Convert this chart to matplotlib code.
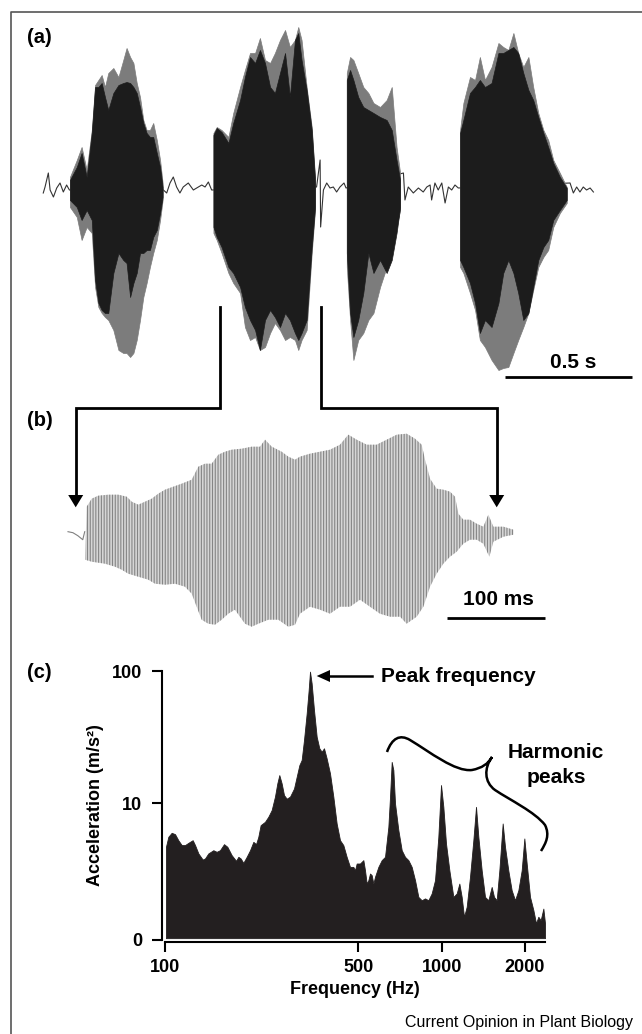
"""Insect vibrational signal: waveform, zoomed pulse and spectrum."""

import matplotlib

matplotlib.use("Agg")
import matplotlib.pyplot as plt
import numpy as np
from matplotlib.patches import PathPatch, Polygon
from matplotlib.path import Path
from matplotlib.ticker import NullLocator

plt.rcParams["font.family"] = ["Liberation Sans", "DejaVu Sans"]
plt.rcParams["font.weight"] = "bold"
plt.rcParams["axes.labelweight"] = "bold"
plt.rcParams["hatch.linewidth"] = 0.8

W, H = 642, 1034

# ---------------- panel (a): four pulses (time in s, amplitude arb. units)
# gt/gb = grey trace envelope, bt/bb = black trace envelope
p1_t = [0.106, 0.133, 0.152, 0.172, 0.192, 0.205, 0.218, 0.231, 0.244, 0.257, 0.277, 0.297, 0.316,
        0.329, 0.343, 0.356, 0.369, 0.382, 0.395, 0.408, 0.421, 0.434, 0.448, 0.461, 0.471]
p1_gt = [0.13, 0.30, 0.43, 0.20, 0.60, 1.05, 1.10, 1.15, 1.03, 1.17, 1.22, 1.13, 1.30,
         1.42, 1.33, 1.27, 1.07, 0.93, 0.70, 0.60, 0.60, 0.67, 0.50, 0.30, 0.07]
p1_bt = [0.10, 0.23, 0.37, 0.13, 0.57, 1.03, 1.03, 1.07, 0.93, 0.80, 0.97, 1.05, 1.07,
         1.08, 1.07, 1.03, 0.97, 0.83, 0.67, 0.57, 0.53, 0.53, 0.37, 0.23, 0.03]
p1_bb = [-0.10, -0.17, -0.30, -0.20, -0.30, -0.90, -1.13, -1.20, -1.23, -1.23, -0.83, -0.63, -0.70,
         -0.73, -1.07, -0.93, -0.83, -0.63, -0.63, -0.60, -0.60, -0.47, -0.40, -0.23, -0.07]
p1_gb = [-0.17, -0.27, -0.50, -0.37, -0.43, -0.97, -1.17, -1.23, -1.27, -1.30, -1.40, -1.60, -1.63,
         -1.63, -1.67, -1.63, -1.50, -1.30, -1.07, -0.93, -0.77, -0.63, -0.50, -0.30, -0.10]

p2_t = [0.671, 0.684, 0.703, 0.730, 0.749, 0.776, 0.795, 0.815, 0.835, 0.854, 0.874, 0.894, 0.913,
        0.933, 0.953, 0.972, 0.992, 1.005, 1.018, 1.038, 1.058, 1.071]
p2_gt = [0.57, 0.63, 0.60, 0.53, 0.77, 1.03, 1.20, 1.37, 1.37, 1.52, 1.30, 1.27, 1.37,
         1.50, 1.60, 1.43, 1.50, 1.63, 1.50, 1.03, 0.63, 0.13]
p2_bt = [0.55, 0.62, 0.58, 0.47, 0.67, 0.90, 1.13, 1.33, 1.27, 1.40, 1.27, 1.03, 0.97,
         1.17, 1.37, 0.93, 1.50, 1.57, 1.30, 1.00, 0.60, 0.10]
p2_bb = [-0.37, -0.47, -0.57, -0.77, -0.83, -0.97, -1.17, -1.30, -1.40, -1.60, -1.30, -1.20, -1.27,
         -1.37, -1.23, -1.30, -1.43, -1.50, -1.43, -1.30, -0.57, -0.17]
p2_gb = [-0.43, -0.50, -0.63, -0.83, -0.93, -1.03, -1.37, -1.50, -1.47, -1.60, -1.57, -1.43, -1.33,
         -1.40, -1.50, -1.47, -1.50, -1.60, -1.50, -1.40, -0.63, -0.20]

p3_t = [1.196, 1.209, 1.222, 1.241, 1.261, 1.281, 1.301, 1.327, 1.353, 1.373, 1.392, 1.406]
p3_gt = [1.17, 1.33, 1.30, 1.17, 1.03, 0.97, 0.87, 0.83, 0.90, 1.03, 0.43, 0.17]
p3_bt = [1.10, 1.20, 1.10, 0.93, 0.83, 0.80, 0.77, 0.73, 0.70, 0.60, 0.30, 0.10]
p3_bb = [-0.63, -1.23, -1.47, -1.30, -1.03, -0.63, -0.83, -0.70, -0.83, -0.70, -0.43, -0.17]
p3_gb = [-0.77, -1.30, -1.70, -1.50, -1.43, -1.30, -1.23, -0.97, -0.77, -0.63, -0.37, -0.20]

p4_t = [1.642, 1.655, 1.681, 1.701, 1.720, 1.740, 1.766, 1.793, 1.812, 1.832, 1.852, 1.871, 1.891,
        1.911, 1.930, 1.950, 1.970, 1.989, 2.009, 2.035, 2.062]
p4_gt = [0.60, 0.87, 1.13, 1.10, 1.33, 1.10, 1.23, 1.47, 1.43, 1.40, 1.57, 1.37, 1.23,
         1.33, 1.03, 0.77, 0.60, 0.50, 0.30, 0.17, 0.03]
p4_bt = [0.57, 0.70, 0.97, 1.03, 1.10, 1.03, 1.07, 1.37, 1.37, 1.40, 1.43, 1.37, 1.17,
         1.00, 0.90, 0.73, 0.57, 0.43, 0.27, 0.13, 0.02]
p4_bb = [-0.70, -0.77, -0.93, -1.13, -1.43, -1.30, -1.37, -1.13, -0.83, -0.70, -0.83, -1.03, -1.30,
         -1.23, -0.97, -0.70, -0.57, -0.50, -0.30, -0.20, -0.10]
p4_gb = [-0.77, -0.83, -1.03, -1.20, -1.50, -1.57, -1.70, -1.80, -1.78, -1.77, -1.63, -1.50, -1.37,
         -1.23, -1.00, -0.77, -0.67, -0.60, -0.37, -0.23, -0.13]

noise_t = [0.001, 0.008, 0.021, 0.028, 0.041, 0.054, 0.067, 0.080, 0.093, 0.104,
           0.474, 0.487, 0.500, 0.513, 0.526, 0.539, 0.552, 0.572, 0.592, 0.605, 0.625, 0.638, 0.651, 0.664,
           1.077, 1.091, 1.093, 1.104, 1.117, 1.130, 1.143, 1.156, 1.169, 1.185, 1.193,
           1.419, 1.425, 1.438, 1.458, 1.478, 1.497, 1.511, 1.524, 1.530, 1.543, 1.556, 1.570, 1.583,
           1.596, 1.609, 1.622, 1.635,
           2.075, 2.088, 2.101, 2.114, 2.127, 2.140, 2.154, 2.167]
noise_a = [-0.03, 0.03, 0.17, 0.00, -0.07, 0.02, 0.07, -0.02, 0.05, 0.00,
           0.00, -0.03, 0.07, 0.13, 0.03, -0.03, 0.03, 0.07, 0.00, 0.02, 0.05, 0.03, 0.08, 0.00,
           0.03, 0.30, -0.37, 0.00, 0.07, 0.02, 0.03, -0.02, 0.03, 0.07, 0.02,
           0.17, -0.10, 0.03, -0.03, 0.02, -0.02, 0.03, 0.05, -0.10, 0.07, 0.00, 0.07, -0.13,
           0.03, 0.00, 0.05, 0.02,
           0.07, -0.03, 0.03, -0.02, 0.03, 0.00, 0.02, -0.02]

pulses = [
    (p1_t, p1_gt, p1_bt, p1_bb, p1_gb),
    (p2_t, p2_gt, p2_bt, p2_bb, p2_gb),
    (p3_t, p3_gt, p3_bt, p3_bb, p3_gb),
    (p4_t, p4_gt, p4_bt, p4_bb, p4_gb),
]

# ---------------- panel (b): one pulse expanded (time in ms)
lead_t = [0, 5, 10, 15, 17]
lead_a = [0.00, -0.01, -0.04, -0.08, 0.00]
top_t = [19.0, 24.1, 30.8, 41.0, 51.2, 59.7, 64.8, 71.5, 78.3, 85.1, 91.8, 98.6, 107.1, 115.6,
         125.8, 132.5, 139.3, 146.1, 152.9, 159.7, 166.5, 176.7, 186.8, 195.3, 200.4, 207.2,
         217.3, 224.1, 230.9, 235.9, 246.1, 256.3, 266.5, 276.6, 285.1, 293.6, 303.8, 313.9,
         324.1, 334.3, 344.4, 352.9, 359.7, 363.1, 368.2, 374.9, 381.7, 388.5, 393.6, 397.0,
         402.0, 408.8, 415.6, 422.4, 427.5, 432.6, 442.8, 452.9]
top_a = [0.25, 0.33, 0.36, 0.37, 0.37, 0.35, 0.30, 0.27, 0.30, 0.33, 0.38, 0.42, 0.45, 0.48,
         0.52, 0.65, 0.68, 0.68, 0.77, 0.80, 0.82, 0.83, 0.85, 0.85, 0.92, 0.85,
         0.80, 0.75, 0.72, 0.75, 0.78, 0.80, 0.82, 0.87, 0.97, 0.92, 0.87, 0.87,
         0.92, 0.97, 0.98, 0.93, 0.87, 0.72, 0.53, 0.43, 0.42, 0.40, 0.35, 0.18,
         0.12, 0.12, 0.08, 0.05, 0.17, 0.05, 0.05, 0.02]
bot_t = [17.3, 24.1, 37.6, 47.8, 54.6, 61.3, 71.5, 81.7, 88.5, 98.6, 108.8, 119.0, 125.8,
         135.9, 142.7, 149.5, 156.3, 163.0, 169.8, 180.0, 186.8, 193.6, 203.8, 213.9, 224.1,
         230.9, 235.9, 246.1, 256.3, 266.5, 276.6, 286.8, 297.0, 307.1, 317.3, 327.5, 337.7,
         344.4, 354.6, 361.4, 368.2, 374.9, 381.7, 388.5, 395.3, 402.0, 408.8, 415.6, 422.4,
         428.5, 432.6, 442.8, 452.9]
bot_a = [-0.28, -0.30, -0.32, -0.35, -0.38, -0.42, -0.45, -0.48, -0.52, -0.53, -0.52, -0.55, -0.62,
         -0.88, -0.92, -0.93, -0.88, -0.82, -0.78, -0.92, -0.95, -0.92, -0.88, -0.88, -0.95,
         -0.93, -0.82, -0.75, -0.78, -0.82, -0.75, -0.75, -0.68, -0.75, -0.82, -0.85, -0.85,
         -0.92, -0.85, -0.75, -0.55, -0.42, -0.32, -0.25, -0.20, -0.12, -0.08, -0.08, -0.12,
         -0.25, -0.10, -0.05, -0.03]

# ---------------- panel (c): spectrum
freq_hz = [100.8, 102.8, 105.7, 108.7, 111.7, 114.9, 118.1, 121.4, 125.9, 128.4, 132.0, 136.8,
           139.5, 143.4, 149.5, 153.7, 158.0, 163.4, 168.0, 174.1, 180.6, 184.1, 187.7, 191.9,
           197.3, 202.9, 208.6, 213.3, 217.4, 221.6, 229.8, 236.2, 242.9, 249.7, 254.6, 258.9,
           264.0, 269.2, 275.3, 283.0, 292.6, 299.1, 305.9, 311.8, 317.9, 325.1, 330.5, 334.2,
           338.8, 345.5, 353.3, 361.2, 368.3, 375.5, 383.9, 394.7, 405.8, 417.2, 429.0, 441.0,
           453.4, 466.2,
           479.3, 486.0, 492.8, 506.6, 521.0, 528.2, 535.6, 543.2, 550.7, 558.4, 566.2, 574.1,
           590.2, 606.9, 623.9, 641.5, 650.5, 659.6, 668.7, 678.1, 697.2, 716.9, 736.9, 757.7,
           779.0, 800.9, 823.4, 846.5, 870.3, 894.6, 919.8, 945.8, 972.3, 994.3, 1013.7, 1036.3,
           1065.8, 1101.9, 1132.7, 1158.2, 1180.8, 1203.9, 1231.0, 1265.5, 1301.2, 1330.4,
           1356.4, 1394.6, 1433.8, 1474.2, 1515.6, 1545.2, 1580.0, 1615.5, 1660.9, 1693.3,
           1740.4, 1790.0, 1840.7, 1892.3, 1945.5, 1989.0, 2028.3, 2085.2, 2144.0, 2192.0,
           2234.8, 2278.6, 2329.9, 2362.4]
accel = [4.67, 5.56, 5.96, 5.82, 5.24, 4.81, 4.81, 5.00, 5.24, 4.81, 4.16, 3.74,
         3.81, 4.16, 4.40, 4.28, 4.40, 4.89, 4.67, 4.04, 3.66, 3.92, 3.81, 3.53,
         3.92, 4.40, 5.09, 4.89, 5.56, 6.81, 7.22, 7.88, 8.85, 11.2, 14.1, 16.3,
         14.1, 11.5, 10.8, 11.2, 12.9, 15.8, 19.4, 21.2, 30.0, 47.8, 71.8, 98.9,
         80.7, 50.7, 31.8, 26.0, 24.5, 26.0, 21.8, 16.8, 11.2, 7.01, 5.24, 4.81,
         3.92, 3.29,
         3.29, 3.10, 3.49, 3.49, 3.70, 3.10, 2.46, 2.61, 2.93, 2.85, 2.46, 2.77,
         3.29, 3.70, 3.92, 6.62, 11.2, 20.5, 17.8, 9.94, 6.24, 4.40, 3.92, 3.70,
         3.29, 2.61, 1.95, 1.84, 1.90, 1.84, 2.07, 2.61, 5.56, 13.7, 9.37, 4.95,
         3.10, 1.95, 2.07, 2.46, 1.95, 1.38, 1.64, 2.77, 5.24, 9.37,
         5.56, 3.10, 1.95, 1.84, 2.32, 1.95, 1.84, 3.10, 7.01, 4.67,
         3.10, 2.19, 1.84, 2.19, 3.10, 5.40, 3.49, 1.95, 1.55, 1.23,
         1.38, 1.30, 1.59, 1.23]
freq_ticks = [100, 500, 1000, 2000]
freq_ticklabels = ["100", "500", "1000", "2000"]
accel_ticks = [0.92, 10, 100]
accel_ticklabels = ["0", "10", "100"]

BLACK = "#1c1c1c"
GREY = "#7c7c7c"


def px_box(x0, y0, x1, y1):
    """Figure-fraction rect from pixel box (top-left origin)."""
    return [x0 / W, 1 - y1 / H, (x1 - x0) / W, (y1 - y0) / H]


fig = plt.figure(figsize=(W / 100, H / 100), dpi=100)

# ---- (a)
ax_a = fig.add_axes(px_box(0, 20, W, 400))
ax_a.set_xlim(-43 / 254, (W - 43) / 254)
ax_a.set_ylim(-2.10, 1.70)
ax_a.axis("off")
ax_a.plot(noise_t, noise_a, color="#333333", lw=0.8, zorder=1)
for t, gt, bt, bb, gb in pulses:
    ax_a.fill_between(t, gb, gt, color=GREY, lw=0.5, zorder=2)
    ax_a.fill_between(t, bb, bt, color=BLACK, lw=0.5, zorder=3)
ax_a.plot([1.819, 2.319], [-1.87, -1.87], color="black", lw=2, solid_capstyle="butt")
ax_a.text(2.088, -1.78, "0.5 s", ha="center", va="baseline", fontsize=15)

# ---- (b)
ax_b = fig.add_axes(px_box(0, 420, W, 640))
ax_b.set_xlim(-68 * 1.017, (W - 68) * 1.017)
ax_b.set_ylim(-1.083, 1.117)
ax_b.axis("off")
ax_b.plot(lead_t, lead_a, color="#808080", lw=0.8)
ax_b.fill(top_t + bot_t[::-1], top_a + bot_a[::-1], facecolor="#d6d6d6",
          edgecolor="#858585", hatch="||||||", lw=0)
ax_b.plot([385.1, 485.1], [-0.86, -0.86], color="black", lw=2, solid_capstyle="butt")
ax_b.text(437.3, -0.733, "100 ms", ha="center", va="baseline", fontsize=15)

# ---- (c)
ax_c = fig.add_axes(px_box(165, 671, 545, 940))
ax_c.fill_between(freq_hz, 0.95, accel, color="#231f20", lw=0.6)
ax_c.set_xscale("log")
ax_c.set_yscale("log")
ax_c.set_xlim(100, 2362)
ax_c.set_ylim(0.92, 100)
ax_c.xaxis.set_minor_locator(NullLocator())
ax_c.yaxis.set_minor_locator(NullLocator())
ax_c.set_xticks(freq_ticks)
ax_c.set_xticklabels(freq_ticklabels)
ax_c.set_yticks(accel_ticks)
ax_c.set_yticklabels(accel_ticklabels)
ax_c.patch.set_alpha(0)
for side in ("top", "right"):
    ax_c.spines[side].set_visible(False)
ax_c.spines["left"].set_position(("outward", 2.4))
ax_c.spines["bottom"].set_position(("outward", 1.4))
for side in ("left", "bottom"):
    ax_c.spines[side].set_linewidth(1.5)
ax_c.tick_params(direction="out", length=7, width=1.5, labelsize=13)
ax_c.tick_params(axis="y", pad=7)
ax_c.tick_params(axis="x", pad=5)
ax_c.set_xlabel("Frequency (Hz)", fontsize=13, fontweight="bold", labelpad=4)
ax_c.set_ylabel("Acceleration (m/s²)", fontsize=13, fontweight="bold", labelpad=6)

# ---- overlay: frame, labels, connectors, annotations (pixel coords)
ov = fig.add_axes([0, 0, 1, 1], zorder=10)
ov.set_xlim(0, W)
ov.set_ylim(H, 0)
ov.axis("off")
ov.patch.set_alpha(0)

ov.plot([10.7, 10.7, W + 5], [H + 5, 11.7, 11.7], color="#555555", lw=1.2)
for lab, y in (("(a)", 43), ("(b)", 426), ("(c)", 678)):
    ov.text(27, y, lab, ha="left", va="baseline", fontsize=14.5)

# connectors from pulse 2 of (a) down to (b)
for x_top, x_bot in ((220, 75.7), (320.7, 496.7)):
    ov.plot([x_top, x_top, x_bot, x_bot], [307, 408, 408, 496], color="black", lw=2,
            solid_joinstyle="miter")
    ov.add_patch(Polygon([(x_bot - 7.5, 495), (x_bot + 7.5, 495), (x_bot, 507.3)],
                         closed=True, color="black", lw=0))

# peak frequency arrow
ov.plot([372, 328], [676, 676], color="black", lw=1.8)
ov.add_patch(Polygon([(330, 670), (330, 682), (316.7, 676)], closed=True, color="black", lw=0))
ov.text(381, 682, "Peak frequency", ha="left", va="baseline", fontsize=15)

# harmonic brace
brace = Path(
    [(387, 752), (392, 738), (400, 734), (410, 740),
     (430, 752), (455, 772), (472, 770),
     (482, 768), (488, 764), (492, 757),
     (484, 768), (484, 782), (495, 790),
     (510, 800), (535, 812), (545, 825),
     (550, 835), (546, 843), (541, 851)],
    [Path.MOVETO, Path.CURVE4, Path.CURVE4, Path.CURVE4,
     Path.CURVE4, Path.CURVE4, Path.CURVE4,
     Path.CURVE4, Path.CURVE4, Path.CURVE4,
     Path.CURVE4, Path.CURVE4, Path.CURVE4,
     Path.CURVE4, Path.CURVE4, Path.CURVE4,
     Path.CURVE4, Path.CURVE4, Path.CURVE4],
)
ov.add_patch(PathPatch(brace, facecolor="none", edgecolor="black", lw=1.8))
ov.text(556, 758, "Harmonic", ha="center", va="baseline", fontsize=15)
ov.text(556, 783, "peaks", ha="center", va="baseline", fontsize=15)

ov.text(633, 1027, "Current Opinion in Plant Biology", ha="right", va="baseline",
        fontsize=11.5, fontweight="normal")

fig.savefig("out.png", dpi=100)
